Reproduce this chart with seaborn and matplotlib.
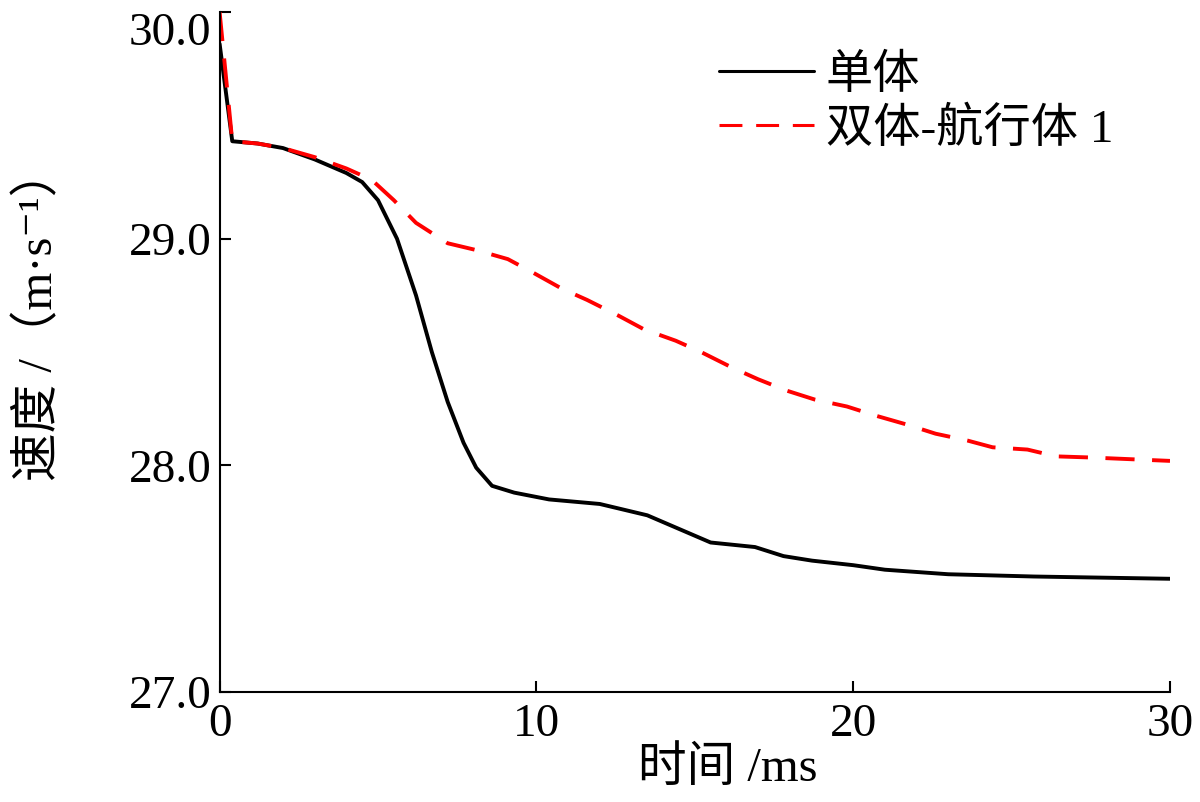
import numpy as np
import pandas as pd
import matplotlib
matplotlib.use('Agg')
import matplotlib.pyplot as plt
import seaborn as sns

# single body (单体) speed
t_single = [0.0, 0.4, 1.2, 2.0, 3.0, 4.0, 4.5, 5.0, 5.6, 6.2, 6.7, 7.2, 7.7, 8.1, 8.6,
            9.3, 10.4, 12.0, 13.5, 14.5, 15.5, 16.9, 17.8, 18.7, 20.0, 21.0, 23.0,
            25.7, 30.0]
v_single = [29.86, 29.43, 29.42, 29.40, 29.35, 29.29, 29.25, 29.17, 29.00, 28.75, 28.50,
            28.28, 28.10, 27.99, 27.91, 27.88, 27.85, 27.83, 27.78, 27.72, 27.66,
            27.64, 27.60, 27.58, 27.56, 27.54, 27.52, 27.51, 27.50]

# twin body - vehicle 1 (双体-航行体1)
t_twin = [0.0, 0.4, 1.2, 2.0, 3.0, 4.0, 4.8, 5.5, 6.2, 7.2, 8.1, 9.1, 9.9, 10.8, 11.6,
          12.6, 13.4, 14.4, 15.2, 16.2, 17.0, 17.9, 18.8, 19.8, 20.7, 21.7, 22.6,
          23.6, 24.4, 25.5, 26.4, 27.5, 30.0]
v_twin = [30.0, 29.43, 29.42, 29.40, 29.36, 29.31, 29.26, 29.17, 29.07, 28.98, 28.95,
          28.91, 28.85, 28.78, 28.73, 28.66, 28.60, 28.55, 28.50, 28.43, 28.38, 28.33,
          28.29, 28.26, 28.22, 28.18, 28.14, 28.11, 28.08, 28.07, 28.04, 28.035, 28.02]

labels = ['单体', '双体-航行体 1']
x_ticks = [0, 10, 20, 30]
y_ticks = [27.0, 28.0, 29.0, 30.0]

df = pd.concat([
    pd.DataFrame({'t': t_single, 'v': v_single, 'case': labels[0]}),
    pd.DataFrame({'t': t_twin, 'v': v_twin, 'case': labels[1]}),
])

sns.set_style('ticks')
plt.rcParams['font.family'] = ['Liberation Serif', 'Noto Sans CJK SC', 'DejaVu Serif']
for k in ['text.color', 'axes.labelcolor', 'axes.edgecolor', 'xtick.color', 'ytick.color']:
    plt.rcParams[k] = 'black'

fig = plt.figure(figsize=(12, 8.02), dpi=100)
ax = fig.add_axes([0.183, 0.137, 0.792, 0.848])

sns.lineplot(data=df, x='t', y='v', hue='case', style='case',
             palette={labels[0]: 'black', labels[1]: '#ff0000'},
             dashes={labels[0]: '', labels[1]: (7.5, 4.5)},
             linewidth=2.8, sort=False, estimator=None, ax=ax)

ax.set_xlim(0, 30)
ax.set_ylim(27.0, 30.0)
ax.set_xticks(x_ticks)
ax.set_xticklabels([str(x) for x in x_ticks])
ax.set_yticks(y_ticks)
ax.set_yticklabels(['%.1f' % y for y in y_ticks])
ax.tick_params(direction='in', length=8, width=1.5, labelsize=34)
ax.tick_params(axis='x', pad=8)
ax.tick_params(axis='y', pad=6)
# top label sits a bit lower so it is not cut at the figure edge
ax.get_yticklabels()[-1].set_va('top')
for s in ['left', 'bottom']:
    ax.spines[s].set_linewidth(1.5)
sns.despine(ax=ax)

ax.set_xlabel('时间 /ms', fontsize=35)
ax.xaxis.set_label_coords(0.535, -0.08)
ax.set_ylabel('速度 /（m·s⁻¹）', fontsize=35)
ax.yaxis.set_label_coords(-0.165, 0.555)

leg = ax.legend(loc='upper right', bbox_to_anchor=(0.985, 1.0), frameon=False,
                fontsize=34, handlelength=2.0, handletextpad=0.25, labelspacing=0.2)
for h in leg.get_lines():
    h.set_linewidth(2.2)

fig.savefig('out.png', dpi=100)
